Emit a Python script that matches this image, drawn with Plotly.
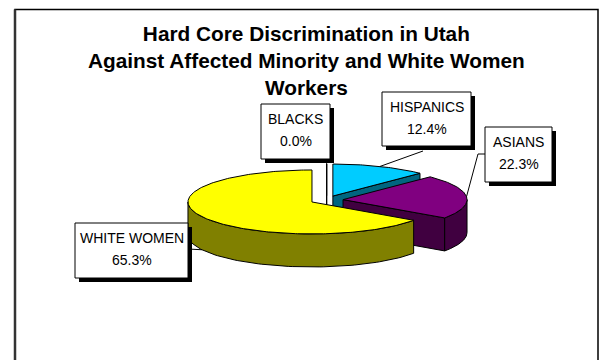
import numpy as np
import plotly.graph_objects as go

# ---- data -------------------------------------------------------------
groups = ["BLACKS", "HISPANICS", "ASIANS", "WHITE WOMEN"]
shares = [0.0, 12.4, 22.3, 65.3]          # percent of cases
top_colors = ["#FFFFFF", "#00CCFF", "#800080", "#FFFF00"]
side_colors = ["#FFFFFF", "#006680", "#400040", "#808000"]
title_lines = [
    "Hard Core Discrimination in Utah",
    "Against Affected Minority and White Women",
    "Workers",
]

# ---- layout constants (pixel space, y grows downwards) ----------------
W, H = 601, 360
CX, CY = 326.6, 200.0      # pie centre
RX, RY = 124.0, 32.0       # ellipse radii of the tilted pie
DEPTH = 33.0               # thickness of the pie
EXPLODE = 0.133            # radial explosion, fraction of radius
START = 90.0               # first slice starts at 12 o'clock, clockwise

# label boxes (x0, y0, x1, y1) and leader-line anchors on the boxes
boxes = {
    "BLACKS": (261, 104, 330, 159),
    "HISPANICS": (382, 92, 471, 146),
    "ASIANS": (485, 127, 552, 182),
    "WHITE WOMEN": (75, 223, 188, 278),
}
leaders = {
    "HISPANICS": [(423, 151)],
    "ASIANS": [(478, 154), (485, 154)],
    "WHITE WOMEN": [(188, 249)],
}
FONT = "Liberation Sans, Arial, sans-serif"
SHADOW = 4


def ell(a, ox, oy, dz=0.0):
    r = np.radians(a)
    return ox + RX * np.cos(r), oy - RY * np.sin(r) + dz


def visible_arcs(lo, hi):
    """Parts of [lo, hi] (degrees) where the outer wall faces the viewer."""
    out = []
    for k in range(-3, 3):
        a, b = max(lo, k * 360 - 180), min(hi, k * 360)
        if b > a:
            out.append((a, b))
    return out


fig = go.Figure()


def poly(xs, ys, fill, line="black"):
    fig.add_trace(go.Scatter(
        x=list(xs), y=list(ys), mode="lines", fill="toself",
        fillcolor=fill, line=dict(color=line, width=1),
        hoverinfo="skip", showlegend=False))


# slice angles
angles = []
cum = 0.0
for v in shares:
    a0 = START - cum * 3.6
    a1 = a0 - v * 3.6
    angles.append((a0, a1))
    cum += v

# draw back to front: hispanics, blacks, asians, white women
order = [1, 0, 2, 3]
mids = {}
for i in order:
    a0, a1 = angles[i]
    mid = (a0 + a1) / 2
    ox = CX + EXPLODE * RX * np.cos(np.radians(mid))
    oy = CY - EXPLODE * RY * np.sin(np.radians(mid))
    mids[groups[i]] = (mid, ox, oy)

    # radial walls
    for a, normal in ((a1, a1 - 90), (a0, a0 + 90)):
        if np.sin(np.radians(normal)) < -1e-9 or shares[i] == 0:
            rx_, ry_ = ell(a, ox, oy)
            poly([ox, rx_, rx_, ox, ox], [oy, ry_, ry_ + DEPTH, oy + DEPTH, oy],
                 side_colors[i])

    # outer curved wall
    for lo, hi in visible_arcs(a1, a0):
        t = np.linspace(lo, hi, 80)
        xt, yt = ell(t, ox, oy)
        xs = np.concatenate([xt, xt[::-1], xt[:1]])
        ys = np.concatenate([yt, yt[::-1] + DEPTH, yt[:1]])
        poly(xs, ys, side_colors[i])

    # top face
    t = np.linspace(a0, a1, max(2, int(abs(a0 - a1)) + 2))
    xt, yt = ell(t, ox, oy)
    poly(np.concatenate([[ox], xt, [ox]]), np.concatenate([[oy], yt, [oy]]),
         top_colors[i])

shapes = []
annotations = []

# leader lines from slice rim to label box
for name, pts in leaders.items():
    mid, ox, oy = mids[name]
    dz = DEPTH if np.sin(np.radians(mid)) < 0 else 0.0
    sx, sy = ell(mid, ox, oy, dz)
    path = [(sx, sy)] + pts
    fig.add_trace(go.Scatter(
        x=[p[0] for p in path], y=[p[1] for p in path], mode="lines",
        line=dict(color="black", width=1), hoverinfo="skip", showlegend=False))

# label boxes with drop shadow
for name, v in zip(groups, shares):
    x0, y0, x1, y1 = boxes[name]
    shapes.append(dict(type="rect", xref="x", yref="y",
                       x0=x0 + SHADOW, y0=y0 + SHADOW, x1=x1 + SHADOW, y1=y1 + SHADOW,
                       fillcolor="black", line=dict(width=0)))
    shapes.append(dict(type="rect", xref="x", yref="y", x0=x0, y0=y0, x1=x1, y1=y1,
                       fillcolor="white", line=dict(color="black", width=1)))
    xc = (x0 + x1) / 2
    for txt, dy in ((name, 15), (f"{v:.1f}%", 37)):
        annotations.append(dict(x=xc, y=y0 + dy, xref="x", yref="y", text=txt,
                                showarrow=False, xanchor="center", yanchor="middle",
                                font=dict(family=FONT, size=14, color="black")))

# outer chart frame, with a slightly heavier left edge
shapes.insert(0, dict(type="rect", xref="x", yref="y", x0=15, y0=9.5, x1=598, y1=380,
                      fillcolor="rgba(0,0,0,0)", line=dict(color="black", width=1.5),
                      layer="above"))
shapes.insert(1, dict(type="line", xref="x", yref="y", x0=15, y0=9.5, x1=15, y1=380,
                      line=dict(color="#333333", width=2.5), layer="above"))

annotations.append(dict(
    x=306, y=60, xref="x", yref="y", showarrow=False,
    text="<b>" + "<br>".join(title_lines) + "</b>",
    xanchor="center", yanchor="middle", align="center",
    font=dict(family=FONT, size=20.8, color="black")))

fig.update_layout(
    width=W, height=H, autosize=False,
    margin=dict(l=0, r=0, t=0, b=0),
    paper_bgcolor="white", plot_bgcolor="white",
    xaxis=dict(range=[0, W], visible=False, fixedrange=True),
    yaxis=dict(range=[H, 0], visible=False, fixedrange=True),
    shapes=shapes, annotations=annotations, showlegend=False,
)

fig.write_html("out.html")
